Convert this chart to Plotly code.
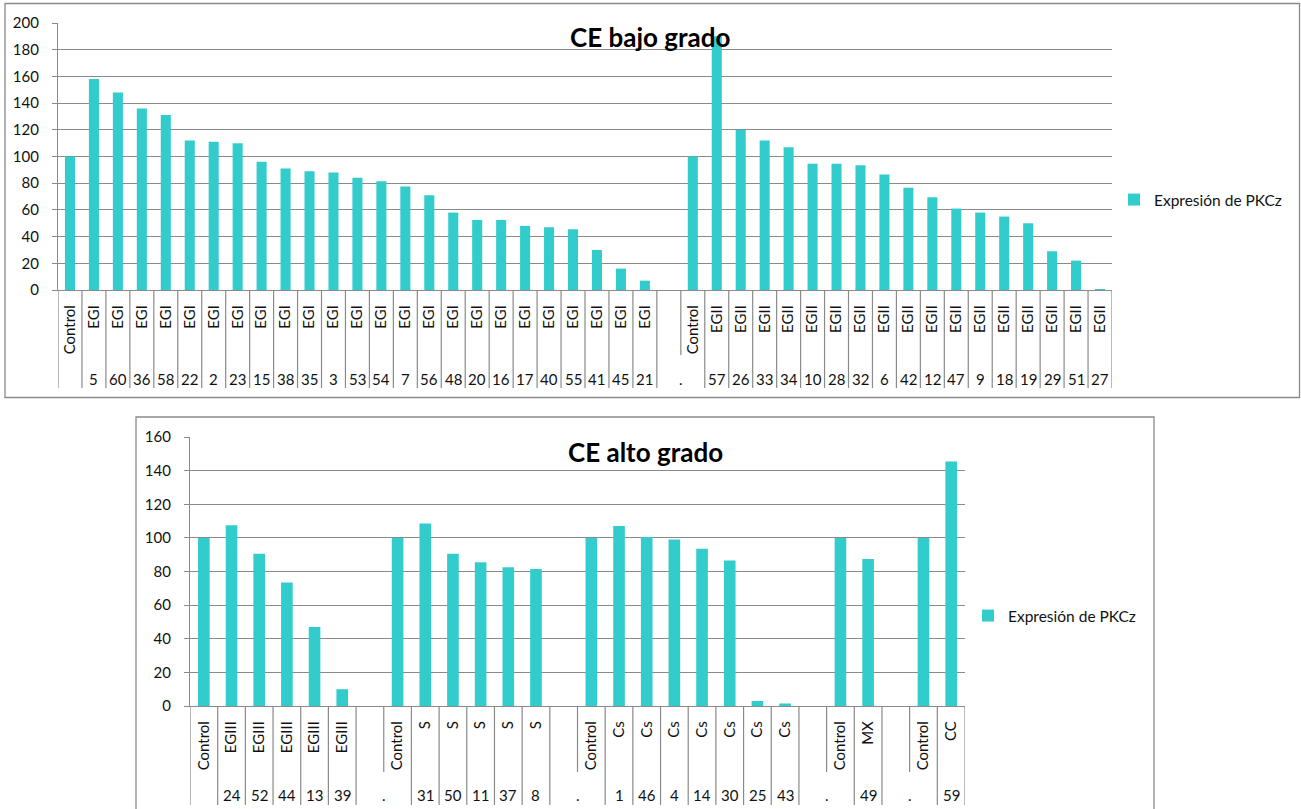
import plotly.graph_objects as go

W, H = 1301, 809
FONT = "Lato"
BAR_COLOR = "#33CCCC"
LINE_COLOR = "#8A8A8A"
TEXT_COLOR = "#111111"
SERIES_NAME = "Expresión de PKCz"
CONTROL_VALUE = 100

# ---- CE bajo grado ----
egi_ids = ["5", "60", "36", "58", "22", "2", "23", "15", "38", "35", "3", "53",
           "54", "7", "56", "48", "20", "16", "17", "40", "55", "41", "45", "21"]
egi_vals = [158, 148, 136, 131, 112, 111, 110, 96, 91, 89, 88, 84,
            81.5, 77.5, 71, 58, 52.5, 52.5, 48, 47, 45.5, 30, 16, 7]

egii_ids = ["57", "26", "33", "34", "10", "28", "32", "6", "42", "12", "47",
            "9", "18", "19", "29", "51", "27"]
egii_vals = [190, 120, 112, 107, 94.5, 94.5, 93.5, 86.5, 76.5, 69.5, 61,
             58, 55, 50, 29, 22, 0.5]

# ---- CE alto grado ----
egiii_ids = ["24", "52", "44", "13", "39"]
egiii_vals = [107.5, 90.5, 73.5, 47, 10]

s_ids = ["31", "50", "11", "37", "8"]
s_vals = [108.5, 90.5, 85.5, 82.5, 81.5]

cs_ids = ["1", "46", "4", "14", "30", "25", "43"]
cs_vals = [107, 100.5, 99, 93.5, 86.5, 3, 1.5]

mx_ids = ["49"]
mx_vals = [87.5]

cc_ids = ["59"]
cc_vals = [145.5]

low_groups = [("EGI", egi_ids, egi_vals), ("EGII", egii_ids, egii_vals)]
high_groups = [("EGIII", egiii_ids, egiii_vals), ("S", s_ids, s_vals),
               ("Cs", cs_ids, cs_vals), ("MX", mx_ids, mx_vals),
               ("CC", cc_ids, cc_vals)]


def fx(px):
    return px / W


def fy(py):
    return 1 - py / H


def build(groups):
    """Two-level category layout: inner label, outer label, value, span id."""
    inner, outer, values, span = [], [], [], []
    sid = 0
    for g, (name, ids, vals) in enumerate(groups):
        if g == 0:
            inner.append("Control"); outer.append(""); values.append(CONTROL_VALUE)
            span.append(sid); sid += 1
        else:
            inner += ["", "Control"]; outer += [".", "."]
            values += [None, CONTROL_VALUE]
            span += [sid, sid]; sid += 1
        for i, v in zip(ids, vals):
            inner.append(name); outer.append(i); values.append(v)
            span.append(sid); sid += 1
    return inner, outer, values, span


fig = go.Figure()
shapes, annotations = [], []


def add_chart(groups, ax, ymax, dom_px, title, title_xy, legend_name, legend_xy,
              sep_full, sep_short, num_y):
    inner, outer, values, span = build(groups)
    n = len(inner)
    xs = list(range(n))
    suffix = "" if ax == 1 else str(ax)
    fig.add_trace(go.Bar(
        x=xs, y=values, width=0.42, name=SERIES_NAME,
        marker=dict(color=BAR_COLOR, line=dict(width=0)),
        xaxis="x" + suffix, yaxis="y" + suffix,
        legend=legend_name, showlegend=True,
    ))
    x0, x1, ybot, ytop = dom_px
    fig.layout["xaxis" + suffix] = dict(
        domain=[fx(x0), fx(x1)], anchor="y" + suffix, range=[-0.5, n - 0.5],
        tickmode="array", tickvals=xs, ticktext=inner, tickangle=-90,
        ticks="", showgrid=False, zeroline=False, showline=True,
        linecolor=LINE_COLOR, linewidth=1.3, ticklabelstandoff=8,
        automargin=False,
        tickfont=dict(family=FONT, size=15, color=TEXT_COLOR), fixedrange=True,
    )
    fig.layout["yaxis" + suffix] = dict(
        domain=[fy(ybot), fy(ytop)], anchor="x" + suffix, range=[0, ymax],
        dtick=20, ticks="outside", ticklen=5, tickcolor=LINE_COLOR,
        showgrid=True, gridcolor=LINE_COLOR, gridwidth=1.2, zeroline=False,
        showline=True, linecolor=LINE_COLOR, linewidth=1.3, ticklabelstandoff=10,
        automargin=False,
        tickfont=dict(family=FONT, size=15, color=TEXT_COLOR), fixedrange=True,
    )
    xref = "x" + suffix
    # category dividers below the axis
    for b in range(-1, n):
        full = b == -1 or b == n - 1 or span[b] != span[b + 1]
        shapes.append(dict(
            type="line", xref=xref, yref="paper", x0=b + 0.5, x1=b + 0.5,
            y0=fy(ybot), y1=fy(sep_full if full else sep_short),
            line=dict(color=LINE_COLOR, width=1.2),
        ))
    # outer-level labels, centred on their span
    seen = {}
    for i, s in enumerate(span):
        seen.setdefault(s, []).append(i)
    for s, idx in seen.items():
        label = outer[idx[0]]
        if not label:
            continue
        annotations.append(dict(
            x=(idx[0] + idx[-1]) / 2, y=fy(num_y), xref=xref, yref="paper",
            text=label, showarrow=False, yanchor="middle", xanchor="center",
            font=dict(family=FONT, size=15, color=TEXT_COLOR),
        ))
    annotations.append(dict(
        x=fx(title_xy[0]), y=fy(title_xy[1]), xref="paper", yref="paper",
        text="<b>" + title + "</b>", showarrow=False,
        xanchor="center", yanchor="middle",
        font=dict(family=FONT, size=26, color="#000000"),
    ))
    fig.layout[legend_name] = dict(
        x=fx(legend_xy[0]), y=fy(legend_xy[1]), xanchor="left", yanchor="middle",
        xref="paper", yref="paper", bgcolor="rgba(0,0,0,0)", borderwidth=0,
        font=dict(family=FONT, size=15.5, color=TEXT_COLOR),
        itemclick=False, itemdoubleclick=False,
    )


add_chart(low_groups, 1, 200, (58, 1112, 290, 23), "CE bajo grado", (650, 37),
          "legend", (1114, 200), 388, 355, 379)
add_chart(high_groups, 2, 160, (190, 965, 706, 437), "CE alto grado", (645, 452),
          "legend2", (968, 616), 805, 772, 795)

# chart frames
shapes.append(dict(type="rect", xref="paper", yref="paper",
                   x0=fx(5), x1=fx(1299.5), y0=fy(397.5), y1=fy(3.5),
                   line=dict(color=LINE_COLOR, width=1.3), layer="below"))
shapes.append(dict(type="rect", xref="paper", yref="paper",
                   x0=fx(136), x1=fx(1154), y0=fy(812), y1=fy(417),
                   line=dict(color=LINE_COLOR, width=1.3), layer="below"))

fig.update_layout(
    width=W, height=H, autosize=False,
    margin=dict(l=0, r=0, t=0, b=0, pad=0, autoexpand=False),
    paper_bgcolor="white", plot_bgcolor="white",
    shapes=shapes, annotations=annotations,
    bargap=0.58, font=dict(family=FONT, color=TEXT_COLOR),
)

fig.write_html("out.html", config={"displayModeBar": False})
